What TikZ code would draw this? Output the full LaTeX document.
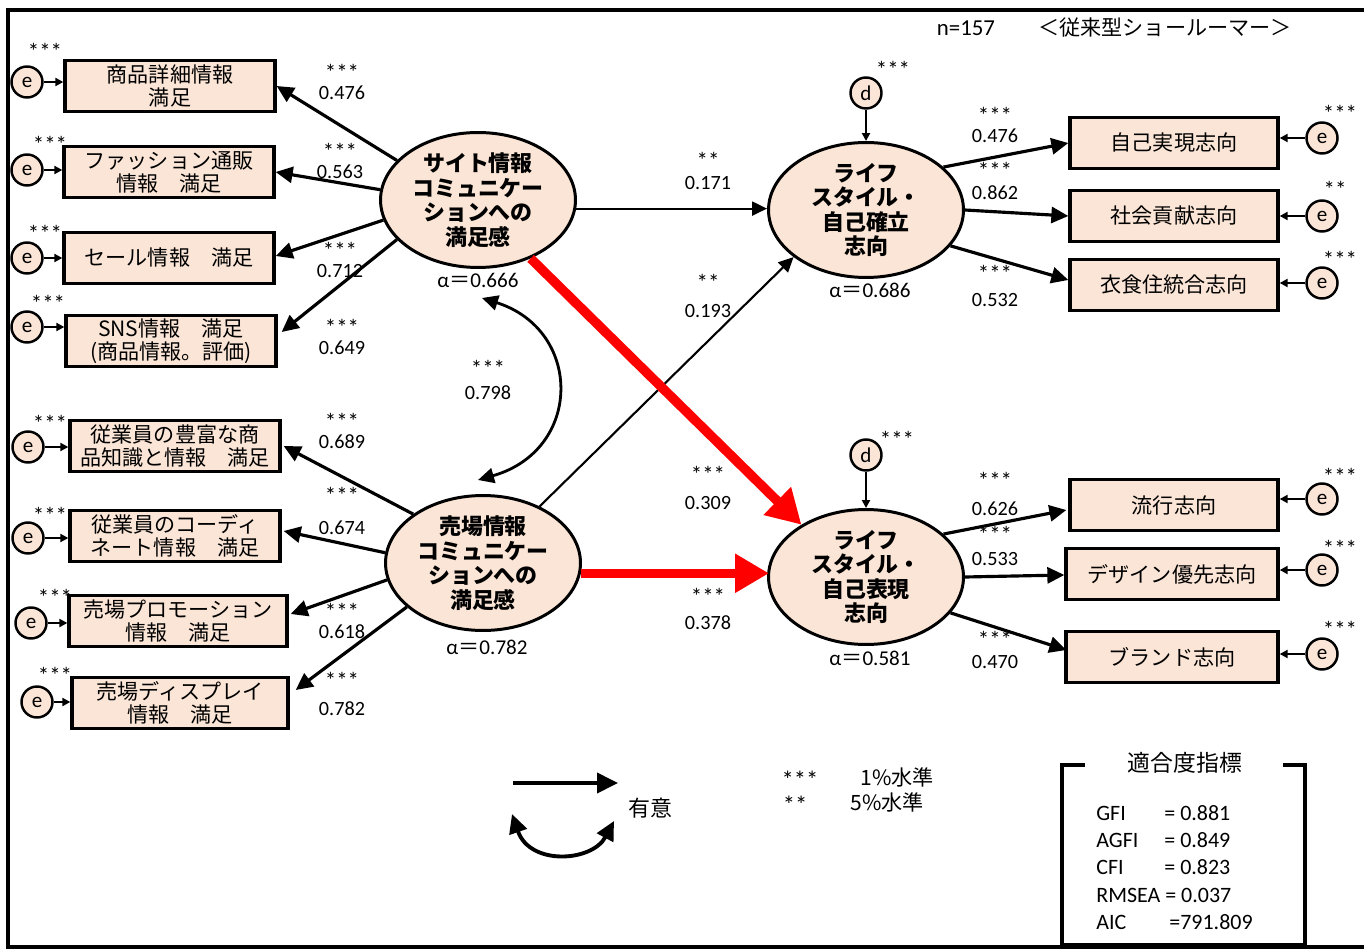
\documentclass[tikz,border=0pt]{standalone}
\usepackage{fontspec}
\setmainfont{Carlito}
\newfontfamily\jp{Noto Sans CJK JP}
\usetikzlibrary{shapes.geometric,arrows.meta,calc}
\definecolor{peach}{HTML}{FBE5D6}
\definecolor{sred}{HTML}{FF0000}
\newcommand{\coefg}[3]{{\fontsize{13}{11}\selectfont #1}\\[#2]#3}
\tikzset{
 box/.style={draw, line width=1.9pt, fill=peach, minimum width=4.2cm, minimum height=1.02cm, inner sep=0pt, align=center, font=\jp\fontsize{12}{13.2}\selectfont},
 lat/.style={ellipse, draw, line width=1.7pt, fill=peach, minimum width=3.9cm, minimum height=2.7cm, inner sep=0pt},
 lattxt/.style={align=center, inner sep=0pt, font=\jp\bfseries\fontsize{12.5}{14}\selectfont},
 err/.style={circle, draw, line width=1.4pt, fill=peach, minimum size=0.62cm, inner sep=0pt, font=\fontsize{12}{12}\selectfont},
 coef/.style={align=center, inner sep=0pt, font=\fontsize{11.5}{12}\selectfont},
 stl/.style={inner sep=0pt, font=\fontsize{13}{13}\selectfont},
 lnk/.style={line width=1.8pt, -{Triangle[length=0.34cm,width=0.32cm]}},
 thin/.style={line width=1.2pt, -{Triangle[length=0.3cm,width=0.28cm]}},
 small/.style={line width=1.2pt, -{Triangle[length=0.16cm,width=0.16cm]}},
 redarr/.style={sred, line width=0.19cm, -{Triangle[length=0.68cm,width=0.74cm]}},
 alab/.style={inner sep=0pt, font=\fontsize{12}{12}\selectfont},
 jtxt/.style={inner sep=0pt, font=\jp\fontsize{12}{12}\selectfont},
 ltxt/.style={inner sep=0pt, anchor=west, font=\fontsize{12.5}{12.5}\selectfont},
}
\begin{document}
\begin{tikzpicture}[x=0.02cm,y=-0.02cm]
\useasboundingbox (0,0) rectangle (1364,952);
% outer frame
\draw[line width=1.8pt] (1364,10) -- (8,10) -- (8,947) -- (1364,947);

% header
\node[alab, font=\fontsize{13}{13}\selectfont] (nn) at (966,28) {n=157};
\node[jtxt] (ttl) at (1165,28) {＜従来型ショールーマー＞};

% latent ellipses
\node[lat] (e1) at (478,200) {};
\node[lattxt] (e1t) at (e1) {サイト情報\\コミュニケー\\ションへの\\満足感};
\node[lat] (e2) at (483,563) {};
\node[lattxt] (e2t) at (e2) {売場情報\\コミュニケー\\ションへの\\満足感};
\node[lat] (e3) at (866,210) {};
\node[lattxt] (e3t) at (e3) {ライフ\\スタイル・\\自己確立\\志向};
\node[lat] (e4) at (866,577) {};
\node[lattxt] (e4t) at (e4) {ライフ\\スタイル・\\自己表現\\志向};

\node[alab] (a1) at (478,280) {α{\jp ＝}0.666};
\node[alab] (a2) at (487,647) {α{\jp ＝}0.782};
\node[alab] (a3) at (870,290) {α{\jp ＝}0.686};
\node[alab] (a4) at (870,658) {α{\jp ＝}0.581};

% left boxes
\node[box] (b1) at (170,86) {商品詳細情報\\満足};
\node[box] (b2) at (169,172) {ファッション通販\\情報　満足};
\node[box] (b3) at (169,258) {セール情報　満足};
\node[box] (b4) at (171,341) {SNS情報　満足\\(商品情報。評価)};
\node[box] (b5) at (175,446) {従業員の豊富な商\\品知識と情報　満足};
\node[box] (b6) at (175,536) {従業員のコーディ\\ネート情報　満足};
\node[box, minimum width=4.36cm] (b7) at (178,621) {売場プロモーション\\情報　満足};
\node[box, minimum width=4.32cm] (b8) at (180,703) {売場ディスプレイ\\情報　満足};

% right boxes
\node[box, minimum width=4.16cm] (r1) at (1174,143) {自己実現志向};
\node[box, minimum width=4.16cm] (r2) at (1174,216) {社会貢献志向};
\node[box, minimum width=4.16cm] (r3) at (1174,285) {衣食住統合志向};
\node[box, minimum width=4.16cm] (r4) at (1174,505) {流行志向};
\node[box, minimum width=4.24cm] (r5) at (1172,574) {デザイン優先志向};
\node[box, minimum width=4.24cm] (r6) at (1172,657) {ブランド志向};

% error circles left
\node[err] (el1) at (27,82) {e};
\node[err] (el2) at (27,170) {e};
\node[err] (el3) at (27,258) {e};
\node[err] (el4) at (27,327) {e};
\node[err] (el5) at (28,447) {e};
\node[err] (el6) at (28,538) {e};
\node[err] (el7) at (31,623) {e};
\node[err] (el8) at (37,702) {e};
\foreach \i/\b in {1/b1,2/b2,3/b3,4/b4,5/b5,6/b6,7/b7,8/b8}
  \draw[small] (el\i.east) -- (el\i -| \b.west);
\node[stl] (sl1) at (45,51) {***};
\node[stl] (sl2) at (50,144) {***};
\node[stl] (sl3) at (45,233) {***};
\node[stl] (sl4) at (48,303) {***};
\node[stl] (sl5) at (50,423) {***};
\node[stl] (sl6) at (50,515) {***};
\node[stl] (sl7) at (55,597) {***};
\node[stl] (sl8) at (55,675) {***};

% error circles right
\node[err] (er1) at (1322,138) {e};
\node[err] (er2) at (1322,216) {e};
\node[err] (er3) at (1322,283) {e};
\node[err] (er4) at (1322,499) {e};
\node[err] (er5) at (1322,570) {e};
\node[err] (er6) at (1322,654) {e};
\foreach \i in {1,...,6}
  \draw[small] (er\i.west) -- (er\i -| r\i.east);
\node[stl] (sr1) at (1340,113) {***};
\node[stl] (sr2) at (1335,189) {**};
\node[stl] (sr3) at (1340,259) {***};
\node[stl] (sr4) at (1340,476) {***};
\node[stl] (sr5) at (1340,548) {***};
\node[stl] (sr6) at (1340,629) {***};

% disturbances
\node[err] (d1) at (866,93) {d};
\node[err] (d2) at (866,455) {d};
\draw[small] (d1.south) -- (e3.north);
\draw[small] (d2.south) -- (e4.north);
\node[stl] (sd1) at (893,69) {***};
\node[stl] (sd2) at (897,439) {***};

% measurement paths left
\draw[lnk] (e1.154) -- (b1.east);
\draw[lnk] (e1.174) -- (b2.east);
\draw[lnk] (e1.192) -- ($(b3.east)+(0,-2)$);
\draw[lnk] (e1.206) -- ($(b4.east)+(4,-9)$);
\draw[lnk] (e2.145) -- ($(b5.east)+(2,0)$);
\draw[lnk] (e2.174) -- ($(b6.east)+(2,-5)$);
\draw[lnk] (e2.190) -- ($(b7.east)+(2,-7)$);
\draw[lnk] (e2.210) -- ($(b8.east)+(6,-13)$);

% measurement paths right
\draw[lnk] (e3.29) -- (r1.west);
\draw[lnk] (e3.east) -- (r2.west);
\draw[lnk] (e3.-23) -- ($(r3.west)+(0,-5)$);
\draw[lnk] (e4.29) -- ($(r4.west)+(-2,5)$);
\draw[lnk] (e4.east) -- ($(r5.west)+(0,1)$);
\draw[lnk] (e4.-23) -- ($(r6.west)+(2,-7)$);

% structural paths
\draw[thin] (e1.-5) -- (e1.-5 -| e3.west);
\draw[thin] (e2.45) -- (e3.213);
\draw[redarr] (e1.-48) -- (e4.141);
\draw[redarr] (e2.-6) -- ($(e2.-6 -| e4.west)+(2,0)$);

% covariance
\coordinate (cv1) at (482,298);
\coordinate (cv2) at (478,480);
\draw[line width=1.6pt, {Triangle[length=0.32cm,width=0.3cm]}-{Triangle[length=0.32cm,width=0.3cm]}] (cv1) .. controls (583,330) and (583,450) .. (cv2);

% coefficients
\node[coef] (c1) at (342,82) {\coefg{***}{-1pt}{0.476}};
\node[coef] (c2) at (340,161) {\coefg{***}{-1pt}{0.563}};
\node[coef] (c3) at (340,260) {\coefg{***}{-1pt}{0.712}};
\node[coef] (c4) at (342,337) {\coefg{***}{-1pt}{0.649}};
\node[coef] (c5) at (342,431) {\coefg{***}{-1pt}{0.689}};
\node[coef] (c6) at (342,511) {\coefg{***}{6pt}{0.674}};
\node[coef] (c7) at (342,621) {\coefg{***}{-1pt}{0.618}};
\node[coef] (c8) at (342,694) {\coefg{***}{3pt}{0.782}};
\node[coef] (c9) at (488,380) {\coefg{***}{1pt}{0.798}};
\node[coef] (c10) at (708,171) {\coefg{**}{0pt}{0.171}};
\node[coef] (c11) at (708,296) {\coefg{**}{3pt}{0.193}};
\node[coef] (c12) at (708,488) {\coefg{***}{3pt}{0.309}};
\node[coef] (c13) at (708,609) {\coefg{***}{2pt}{0.378}};
\node[coef] (c14) at (995,125) {\coefg{***}{-1pt}{0.476}};
\node[coef] (c15) at (995,181) {\coefg{***}{0pt}{0.862}};
\node[coef] (c16) at (995,286) {\coefg{***}{2pt}{0.532}};
\node[coef] (c17) at (995,494) {\coefg{***}{3pt}{0.626}};
\node[coef] (c18) at (995,546) {\coefg{***}{1pt}{0.533}};
\node[coef] (c19) at (995,650) {\coefg{***}{0pt}{0.470}};

% legend
\coordinate (lg1) at (513,783);
\coordinate (lg2) at (618,783);
\draw[line width=2.2pt, -{Triangle[length=0.42cm,width=0.4cm]}] (lg1) -- (lg2);
\coordinate (lg3) at (512,814);
\coordinate (lg4) at (614,821);
\draw[line width=2.2pt, {Triangle[length=0.38cm,width=0.36cm]}-{Triangle[length=0.38cm,width=0.36cm]}] (lg3) .. controls (530,866) and (592,862) .. (lg4);
\node[jtxt, font=\jp\fontsize{12.5}{12.5}\selectfont] (sig) at (650,808) {有意};
\node[stl, font=\fontsize{14}{14}\selectfont] (lgs1) at (800,780) {***};
\node[stl, font=\fontsize{14}{14}\selectfont] (lgs2) at (795,805) {**};
\node[jtxt] (lgt1) at (897,777) {1\%水準};
\node[jtxt] (lgt2) at (887,802) {5\%水準};

% fit box
\draw[line width=1.9pt] (1085,765) -- (1062,765) -- (1062,945) -- (1305,945) -- (1305,765) -- (1283,765);
\node[jtxt, font=\jp\fontsize{13}{13}\selectfont] (fitt) at (1185,763) {適合度指標};
\node[ltxt] (f1) at (1096,813) {GFI};
\node[ltxt] (f1v) at (1164,813) {= 0.881};
\node[ltxt] (f2) at (1096,840) {AGFI};
\node[ltxt] (f2v) at (1164,840) {= 0.849};
\node[ltxt] (f3) at (1096,867) {CFI};
\node[ltxt] (f3v) at (1164,867) {= 0.823};
\node[ltxt] (f4) at (1096,895) {RMSEA = 0.037};
\node[ltxt] (f5) at (1096,922) {AIC};
\node[ltxt] (f5v) at (1169,922) {=791.809};
\end{tikzpicture}
\end{document}
